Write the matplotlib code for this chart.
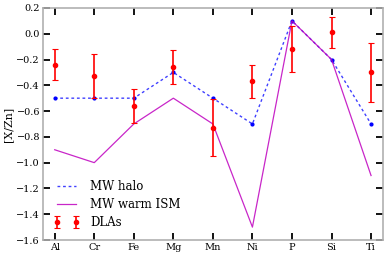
import matplotlib
matplotlib.use("Agg")
from matplotlib import pyplot as plt
import numpy as np

elements = ["Al", "Cr", "Fe", "Mg", "Mn", "Ni", "P", "Si", "Ti"]
mw_halo = [-0.5, -0.5, -0.5, -0.3, -0.5, -0.7, 0.1, -0.2, -0.7]
mw_warm_ism = [-0.9, -1.0, -0.7, -0.5, -0.7, -1.5, 0.1, -0.2, -1.1]
dla_values = [-0.24, -0.33, -0.56, -0.26, -0.73, -0.37, -0.12, 0.01, -0.30]
dla_errors = [0.12, 0.17, 0.13, 0.13, 0.22, 0.13, 0.18, 0.12, 0.23]

plt.rcParams["font.family"] = "DejaVu Serif"
plt.rcParams["font.size"] = 7

fig = plt.figure(figsize=(3.86, 2.56), dpi=100)
ax = fig.add_axes([0.111, 0.0625, 0.881, 0.9065])

x = np.arange(len(elements))

# MW halo: dotted line plus small dots at the points
ax.plot(x, mw_halo, color="blue", linestyle=(0, (2, 2)), linewidth=1.0, alpha=0.75,
        label="MW halo")
ax.plot(x, mw_halo, "o", color="blue", markersize=2, linestyle="none")

# MW warm ISM
ax.plot(x, mw_warm_ism, color="m", linewidth=0.9, alpha=0.85, label="MW warm ISM")

# DLA measurements
ax.errorbar(x, dla_values, yerr=dla_errors, fmt="o", color="red", markersize=3,
            elinewidth=1.2, capsize=2, capthick=0.8, label="DLAs")

ax.set_xlim(-0.3, 8.3)
ax.set_ylim(-1.6, 0.2)
ax.set_xticks(x)
ax.set_xticklabels(elements)
ax.set_yticks(np.arange(-1.6, 0.21, 0.2))
ax.set_yticklabels(["\u2212%.1f" % abs(v) if v < -1e-9 else "%.1f" % abs(v)
                    for v in np.arange(-1.6, 0.21, 0.2)])
ax.tick_params(direction="in", length=5, width=1.3, color="black",
               top=True, right=True, pad=2)
for s in ax.spines.values():
    s.set_color("#b0b0b0")
    s.set_linewidth(1.2)

ax.set_ylabel("[X/Zn]", fontsize=8, labelpad=2)

ax.legend(loc="lower left", frameon=False, numpoints=2, fontsize=8.5,
          handlelength=2.2, borderaxespad=0.5, labelspacing=0.45,
          handletextpad=0.9)

plt.savefig("out.png", dpi=100)
